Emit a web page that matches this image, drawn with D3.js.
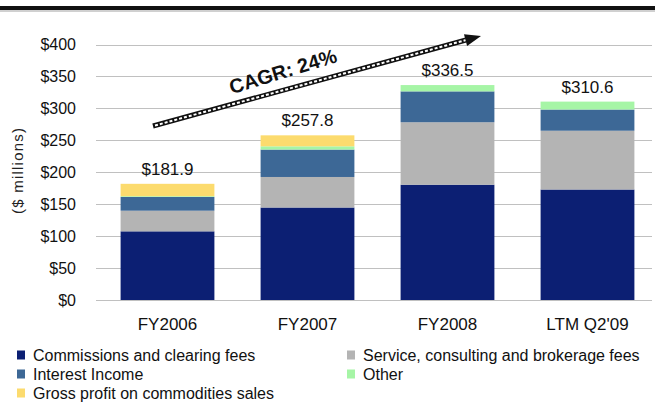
<!DOCTYPE html>
<html>
<head>
<meta charset="utf-8">
<script src="https://cdn.jsdelivr.net/npm/d3@7"></script>
<style>
  html, body { margin: 0; padding: 0; background: #fff; }
  svg { display: block; font-family: "Liberation Sans", Arial, sans-serif; }
</style>
</head>
<body>
<svg id="chart" width="655" height="403"></svg>
<script>
const categories = ["FY2006", "FY2007", "FY2008", "LTM Q2'09"];
const seriesNames = [
  "Commissions and clearing fees",
  "Service, consulting and brokerage fees",
  "Interest Income",
  "Other",
  "Gross profit on commodities sales"
];
const commissions = [107.5, 144.8, 180.5, 173.0];
const service     = [32.3, 47.8, 97.8, 92.0];
const interest    = [21.5, 42.9, 48.3, 33.2];
const other       = [1.2, 5.1, 9.9, 12.4];
const grossProfit = [19.4, 17.2, 0, 0];
const totals      = [181.9, 257.8, 336.5, 310.6];
const yTicks      = [0, 50, 100, 150, 200, 250, 300, 350, 400];
const cagrLabel   = "CAGR: 24%";
const colors = ["#0c1f73", "#b4b4b4", "#3d6896", "#a6f5a6", "#fcdb6e"];

const seriesValues = [commissions, service, interest, other, grossProfit];
const table = categories.map((c, i) => {
  const row = { cat: c };
  seriesNames.forEach((s, j) => row[s] = seriesValues[j][i]);
  return row;
});

const svg = d3.select("#chart");

// top rule
svg.append("rect").attr("x", 0).attr("y", 10).attr("width", 655).attr("height", 2).attr("fill", "#d0d0d0");
svg.append("rect").attr("x", 0).attr("y", 6).attr("width", 655).attr("height", 4).attr("fill", "#111");

const x = d3.scaleBand().domain(categories).range([97.5, 657.5]).paddingInner(0.33).paddingOuter(0.165);
const y = d3.scaleLinear().domain([0, 400]).range([300, 44.5]);

// gridlines
svg.append("g").selectAll("line").data(yTicks).join("line")
  .attr("x1", 96).attr("x2", 652)
  .attr("y1", d => Math.round(y(d)) + 0.5).attr("y2", d => Math.round(y(d)) + 0.5)
  .attr("stroke", "#c0c0c0").attr("stroke-width", 1);

// y axis labels
const yAxis = d3.axisLeft(y).tickValues(yTicks).tickSize(0).tickPadding(0).tickFormat(d => "$" + d);
const yg = svg.append("g").attr("transform", "translate(76,0)").call(yAxis);
yg.select(".domain").remove();
yg.selectAll("text").attr("font-size", 16).attr("fill", "#111").attr("font-family", "Liberation Sans, Arial, sans-serif");

// y title
svg.append("text")
  .attr("transform", "translate(23,171) rotate(-90)")
  .attr("text-anchor", "middle")
  .attr("font-size", 15)
  .attr("textLength", 86)
  .attr("lengthAdjust", "spacing")
  .attr("fill", "#222")
  .text("($ millions)");

// stacked bars
const stack = d3.stack().keys(seriesNames);
const stacked = stack(table);
svg.append("g").selectAll("g").data(stacked).join("g")
  .attr("fill", (d, i) => colors[i])
  .selectAll("rect").data(d => d).join("rect")
  .attr("x", d => x(d.data.cat))
  .attr("width", x.bandwidth())
  .attr("y", d => y(d[1]))
  .attr("height", d => Math.max(0, y(d[0]) - y(d[1])));

// total labels
svg.append("g").selectAll("text").data(categories).join("text")
  .attr("x", d => x(d) + x.bandwidth() / 2)
  .attr("y", (d, i) => y(totals[i]) - 9)
  .attr("text-anchor", "middle")
  .attr("font-size", 17)
  .attr("fill", "#111")
  .text((d, i) => "$" + totals[i].toFixed(1));

// x axis labels
const xAxis = d3.axisBottom(x).tickSize(0).tickPadding(0);
const xg = svg.append("g").attr("transform", "translate(0,318)").call(xAxis);
xg.select(".domain").remove();
xg.selectAll("text").attr("font-size", 17).attr("fill", "#111").attr("dy", "0.71em").attr("font-family", "Liberation Sans, Arial, sans-serif");

// CAGR arrow
const a0 = [153, 126], a1 = [466, 40], tip = [481, 36];
const arrow = svg.append("g");
arrow.append("line").attr("x1", a0[0]).attr("y1", a0[1]).attr("x2", a1[0]).attr("y2", a1[1])
  .attr("stroke", "#111").attr("stroke-width", 5);
arrow.append("line").attr("x1", a0[0] + 2).attr("y1", a0[1] - 0.5).attr("x2", a1[0]).attr("y2", a1[1])
  .attr("stroke", "#fff").attr("stroke-width", 2).attr("stroke-dasharray", "3,2");
const ang = Math.atan2(tip[1] - a1[1], tip[0] - a1[0]);
const hw = 6, hl = 16;
const bx = tip[0] - hl * Math.cos(ang), by = tip[1] - hl * Math.sin(ang);
arrow.append("path")
  .attr("d", `M${tip[0]},${tip[1]} L${bx - hw * Math.sin(ang)},${by + hw * Math.cos(ang)} L${bx + hw * Math.sin(ang)},${by - hw * Math.cos(ang)} Z`)
  .attr("fill", "#111");
svg.append("text")
  .attr("transform", "translate(285,78) rotate(-17)")
  .attr("text-anchor", "middle")
  .attr("font-size", 20)
  .attr("font-weight", "bold")
  .attr("fill", "#111")
  .text(cagrLabel);

// legend
const legendPos = [[17, 355], [347, 355], [17, 374], [347, 374], [17, 393]];
const lg = svg.append("g").selectAll("g").data(seriesNames).join("g")
  .attr("transform", (d, i) => `translate(${legendPos[i][0]},${legendPos[i][1]})`);
lg.append("rect").attr("x", 0).attr("y", -4.5).attr("width", 8).attr("height", 9).attr("fill", (d, i) => colors[i]);
lg.append("text").attr("x", 16).attr("y", 0).attr("dy", "0.35em").attr("font-size", 16).attr("fill", "#111").text(d => d);
</script>
</body>
</html>
